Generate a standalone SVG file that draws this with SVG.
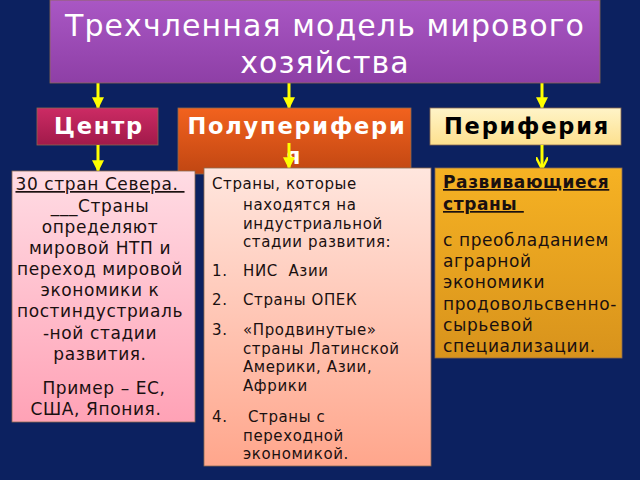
<svg xmlns="http://www.w3.org/2000/svg" width="640" height="480" viewBox="0 0 640 480">
<defs>
<linearGradient id="gTitle" x1="0" y1="0" x2="0" y2="1"><stop offset="0" stop-color="#a957c4"/><stop offset="1" stop-color="#8e3fa6"/></linearGradient>
<linearGradient id="gCenter" x1="0" y1="0" x2="0" y2="1"><stop offset="0" stop-color="#cc2b64"/><stop offset="1" stop-color="#a11a4a"/></linearGradient>
<linearGradient id="gSemi" x1="0" y1="0" x2="0" y2="1"><stop offset="0" stop-color="#f2621e"/><stop offset="1" stop-color="#c04612"/></linearGradient>
<linearGradient id="gPeri" x1="0" y1="0" x2="0" y2="1"><stop offset="0" stop-color="#fff4c8"/><stop offset="1" stop-color="#fde08e"/></linearGradient>
<linearGradient id="gLeft" x1="0" y1="0" x2="0" y2="1"><stop offset="0" stop-color="#ffdce4"/><stop offset="1" stop-color="#ffa2b6"/></linearGradient>
<linearGradient id="gMid" x1="0" y1="0" x2="0" y2="1"><stop offset="0" stop-color="#ffe6de"/><stop offset="1" stop-color="#ffa68c"/></linearGradient>
<linearGradient id="gRight" x1="0" y1="0" x2="0" y2="1"><stop offset="0" stop-color="#f6b223"/><stop offset="1" stop-color="#d8931c"/></linearGradient>
<marker id="ah" viewBox="0 0 10 10" refX="9" refY="5" markerWidth="4" markerHeight="4" orient="auto"><path d="M0,0 L10,5 L0,10 z" fill="#ffff00"/></marker>
<marker id="ahOpen" viewBox="0 0 10 10" refX="9" refY="5" markerWidth="4" markerHeight="4" orient="auto"><path d="M0,0 L10,5 L0,10" fill="none" stroke="#ffff00" stroke-width="2"/></marker>
</defs>
<style>
.box{stroke:#8a6a50;stroke-width:0.8}
.t{font-family:"DejaVu Sans","Noto Sans",sans-serif}
.hdr{font-family:"DejaVu Sans","Noto Sans",sans-serif;font-weight:bold;font-size:22.5px;letter-spacing:1.8px}
.body{font-family:"DejaVu Sans","Noto Sans",sans-serif;font-size:17px;letter-spacing:0.6px;fill:#1a1010}
.mid{font-family:"DejaVu Sans","Noto Sans",sans-serif;font-size:15px;letter-spacing:0.6px;fill:#1a1010}
.arr{stroke:#ffff00;stroke-width:3;fill:none}
</style>
<rect width="640" height="480" fill="#0c2160"/>
<g id="connectors">
<line class="arr" x1="98" y1="83" x2="98" y2="108" marker-end="url(#ah)"/>
<line class="arr" x1="289" y1="83" x2="289" y2="108" marker-end="url(#ah)"/>
<line class="arr" x1="542" y1="83" x2="542" y2="108" marker-end="url(#ah)"/>
</g>
<g id="title">
<rect class="box" x="50" y="0" width="550" height="83" fill="url(#gTitle)"/>
<text class="t" x="325" y="36" font-size="30" letter-spacing="1.1" fill="#ffffff" text-anchor="middle">Трехчленная модель мирового</text>
<text class="t" x="325" y="73" font-size="30" letter-spacing="1.1" fill="#ffffff" text-anchor="middle">хозяйства</text>
</g>
<g id="center">
<rect class="box" x="37" y="108" width="121" height="37" fill="url(#gCenter)"/>
<text class="hdr" x="99" y="134" fill="#ffffff" text-anchor="middle">Центр</text>
</g>
<g id="semiperiphery">
<rect class="box" x="178" y="108" width="233" height="66" fill="url(#gSemi)"/>
<text class="hdr" x="297" y="134" fill="#ffffff" text-anchor="middle">Полуперифери</text>
<text class="hdr" x="294" y="164" fill="#ffffff" text-anchor="middle">я</text>
</g>
<g id="periphery">
<rect class="box" x="430" y="108" width="191" height="37" fill="url(#gPeri)"/>
<text class="hdr" x="527" y="134" fill="#000000" text-anchor="middle">Периферия</text>
</g>
<g id="connectors2">
<line class="arr" x1="98" y1="145" x2="98" y2="171" marker-end="url(#ah)"/>
<line class="arr" x1="289" y1="143" x2="289" y2="168" marker-end="url(#ah)"/>
<line class="arr" x1="542" y1="145" x2="542" y2="168" marker-end="url(#ahOpen)"/>
</g>
<g id="left">
<rect class="box" x="12" y="171" width="183" height="251" fill="url(#gLeft)"/>
<text class="body" text-anchor="middle">
<tspan x="103" y="190" text-decoration="underline">30 стран Севера.&#160;</tspan>
<tspan x="103" y="212">___Страны</tspan>
<tspan x="103" y="233">определяют</tspan>
<tspan x="103" y="254">мировой НТП и</tspan>
<tspan x="103" y="275">переход мировой</tspan>
<tspan x="103" y="296">экономики к</tspan>
<tspan x="103" y="317">постиндустриаль</tspan>
<tspan x="103" y="339">-ной стадии</tspan>
<tspan x="103" y="360">развития.</tspan>
<tspan x="107" y="394">Пример – ЕС,</tspan>
<tspan x="96" y="415">США, Япония.</tspan>
</text>
</g>
<g id="middle">
<rect class="box" x="204" y="168" width="227" height="298" fill="url(#gMid)"/>
<text class="mid">
<tspan x="212" y="189">Страны, которые</tspan>
<tspan x="243" y="210">находятся на</tspan>
<tspan x="243" y="229">индустриальной</tspan>
<tspan x="243" y="247">стадии развития:</tspan>
<tspan x="212" y="276">1.</tspan><tspan x="243" y="276">НИС&#160; Азии</tspan>
<tspan x="212" y="305">2.</tspan><tspan x="243" y="305">Страны ОПЕК</tspan>
<tspan x="212" y="335">3.</tspan><tspan x="243" y="335">«Продвинутые»</tspan>
<tspan x="243" y="354">страны Латинской</tspan>
<tspan x="243" y="372">Америки, Азии,</tspan>
<tspan x="243" y="391">Африки</tspan>
<tspan x="212" y="422">4.</tspan><tspan x="248" y="422">Страны с</tspan>
<tspan x="243" y="441">переходной</tspan>
<tspan x="243" y="459">экономикой.</tspan>
</text>
</g>
<g id="right">
<rect class="box" x="435" y="168" width="187" height="190" fill="url(#gRight)"/>
<text class="body" font-weight="bold" letter-spacing="0.3">
<tspan x="443" y="188" text-decoration="underline">Развивающиеся</tspan>
<tspan x="443" y="210" text-decoration="underline">страны&#160;</tspan>
</text>
<text class="body">
<tspan x="443" y="246">с преобладанием</tspan>
<tspan x="443" y="267">аграрной</tspan>
<tspan x="443" y="288">экономики</tspan>
<tspan x="443" y="310">продовольсвенно-</tspan>
<tspan x="443" y="331">сырьевой</tspan>
<tspan x="443" y="352">специализации.</tspan>
</text>
</g>
</svg>
